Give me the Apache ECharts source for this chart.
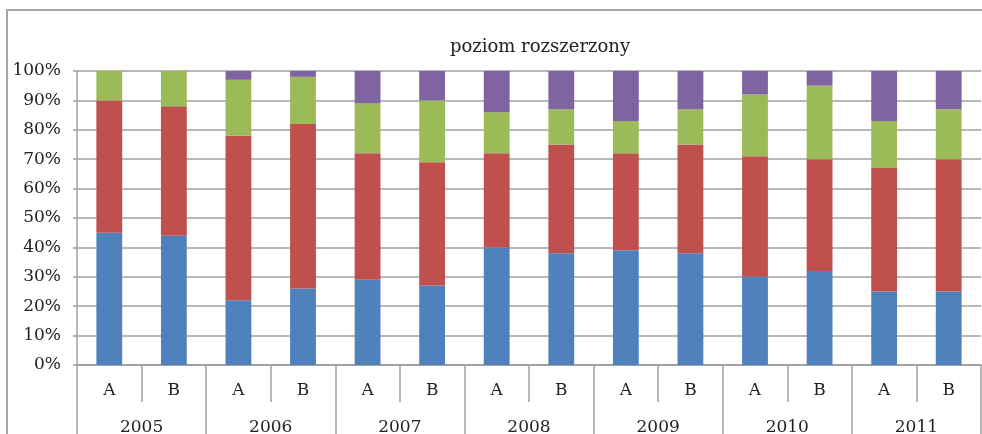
<!DOCTYPE html>
<html>
<head>
<meta charset="utf-8">
<script src="https://cdn.jsdelivr.net/npm/echarts@6/dist/echarts.min.js"></script>
<style>
html,body{margin:0;padding:0;background:#fff;}
#chart{width:982px;height:434px;}
</style>
</head>
<body>
<div id="chart"></div>
<script>
const titleText = 'poziom rozszerzony';
const groups = ['A','B','A','B','A','B','A','B','A','B','A','B','A','B'];
const years = ['2005','2006','2007','2008','2009','2010','2011'];
const yTicks = [0,10,20,30,40,50,60,70,80,90,100];
const blueVals   = [45,44,22,26,29,27,40,38,39,38,30,32,25,25];
const redVals    = [45,44,56,56,43,42,32,37,33,37,41,38,42,45];
const greenVals  = [10,12,19,16,17,21,14,12,11,12,21,25,16,17];
const purpleVals = [0,0,3,2,11,10,14,13,17,13,8,5,17,13];

const FONT = 'DejaVu Serif';
const GRAY = '#a0a0a0';
const chart = echarts.init(document.getElementById('chart'), null, {renderer:'canvas'});

function mk(name, data, color){
  return {name, type:'bar', stack:'total', data, xAxisIndex:0, barWidth:'40%',
    itemStyle:{color}, emphasis:{disabled:true}, animation:false};
}

chart.setOption({
  animation:false,
  graphic:[
    {type:'rect', shape:{x:7,y:10,width:1100,height:600}, style:{fill:'none', stroke:'#a6a6a6', lineWidth:2}, z:-10},
    {type:'text', style:{x:540, y:47, text:titleText, textAlign:'center', textVerticalAlign:'middle', font:'18px "'+FONT+'"', fill:'#222'}}
  ],
  grid:{left:77, right:1, top:71, bottom:69, containLabel:false, outerBoundsMode:'none'},
  yAxis:{type:'value', min:yTicks[0], max:yTicks[yTicks.length-1], interval:10,
    axisLine:{show:true, lineStyle:{color:GRAY, width:1.5}},
    axisTick:{show:true, length:4, lineStyle:{color:GRAY, width:1.5}},
    splitLine:{show:true, lineStyle:{color:GRAY, width:1.5}},
    axisLabel:{formatter:'{value}%', fontFamily:FONT, fontSize:17, color:'#222', margin:16}
  },
  xAxis:[
    {type:'category', data:groups, position:'bottom',
      axisLine:{show:true, lineStyle:{color:GRAY, width:1.5}},
      axisTick:{show:true, interval:0, alignWithLabel:false, length:37, lineStyle:{color:GRAY, width:1.5}},
      axisLabel:{interval:0, fontFamily:FONT, fontSize:17, color:'#222', margin:17}
    },
    {type:'category', data:years, position:'bottom', offset:0,
      axisLine:{show:true, lineStyle:{color:GRAY, width:1.5}},
      axisTick:{show:true, interval:0, alignWithLabel:false, length:80, lineStyle:{color:GRAY, width:1.5}},
      axisLabel:{interval:0, fontFamily:FONT, fontSize:17, color:'#222', margin:54}
    }
  ],
  series:[
    mk('s1', blueVals, '#4F81BD'),
    mk('s2', redVals, '#C0504D'),
    mk('s3', greenVals, '#9BBB59'),
    mk('s4', purpleVals, '#8064A2')
  ]
});
</script>
</body>
</html>
